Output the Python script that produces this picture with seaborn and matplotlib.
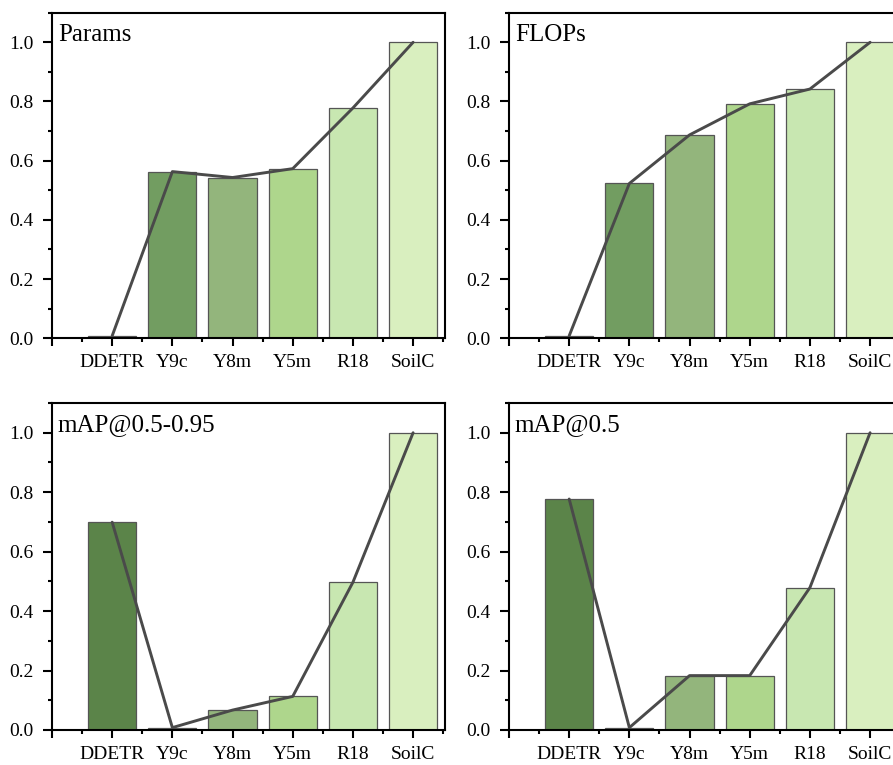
import numpy as np
import pandas as pd
import seaborn as sns
import matplotlib.pyplot as plt
from matplotlib.ticker import MultipleLocator

sns.set_style("ticks")
plt.rcParams['font.family'] = ['Liberation Serif', 'DejaVu Serif']
plt.rcParams['text.color'] = 'black'
plt.rcParams['xtick.color'] = 'black'
plt.rcParams['ytick.color'] = 'black'

models = ["DDETR", "Y9c", "Y8m", "Y5m", "R18", "SoilC"]
params = [0.008, 0.563, 0.543, 0.573, 0.778, 1.0]
flops = [0.008, 0.523, 0.687, 0.792, 0.842, 1.0]
map_50_95 = [0.699, 0.008, 0.067, 0.113, 0.497, 1.0]
map_50 = [0.777, 0.008, 0.183, 0.183, 0.479, 1.0]
titles = ["Params", "FLOPs", "mAP@0.5-0.95", "mAP@0.5"]
colors = ["#5b8449", "#729d61", "#93b57c", "#aed68c", "#c8e7b1", "#d9efbf"]

fig = plt.figure(figsize=(8.93, 7.65), dpi=100)
# axes in pixel coords of the 893x765 picture (right column runs off the edge)
W, H = 893, 765
boxes = [(52, 12.7, 393, 325.5), (509, 12.7, 393, 325.5),
         (52, 403, 393, 327), (509, 403, 393, 327)]

for (x0, y0, w, h), title, vals in zip(boxes, titles, [params, flops, map_50_95, map_50]):
    ax = fig.add_axes([x0 / W, 1 - (y0 + h) / H, w / W, h / H])
    df = pd.DataFrame({"model": models, "value": vals})
    sns.barplot(data=df, x="model", y="value", hue="model", palette=colors,
                order=models, hue_order=models, legend=False, width=0.8,
                edgecolor="#555555", linewidth=0.9, saturation=1, ax=ax)
    sns.lineplot(x=np.arange(len(models)), y=vals, color="#4a4a4a", lw=2.1, ax=ax)
    ax.set_xlim(-1, 5.53)
    ax.set_ylim(0, 1.1)
    ax.set_xticks(range(-1, len(models)))
    ax.set_xticklabels([""] + models, fontsize=14)
    ax.xaxis.set_minor_locator(MultipleLocator(1, offset=0.5))
    ax.set_yticks([0, 0.2, 0.4, 0.6, 0.8, 1.0])
    ax.set_yticklabels(["0.0", "0.2", "0.4", "0.6", "0.8", "1.0"], fontsize=14)
    ax.yaxis.set_minor_locator(MultipleLocator(0.1))
    ax.tick_params(which="major", direction="out", length=6, width=1.5)
    ax.tick_params(axis="y", which="major", length=6.5, pad=6.5)
    ax.tick_params(axis="x", which="major", length=5.5, pad=6)
    ax.tick_params(which="minor", direction="out", length=3, width=1.5)
    ax.set_xlabel("")
    ax.set_ylabel("")
    for s in ax.spines.values():
        s.set_visible(True)
        s.set_linewidth(1.5)
        s.set_color("black")
    ax.text(0.015, 0.965, title, transform=ax.transAxes, fontsize=18,
            ha="left", va="top")

fig.savefig("out.png", dpi=100)
